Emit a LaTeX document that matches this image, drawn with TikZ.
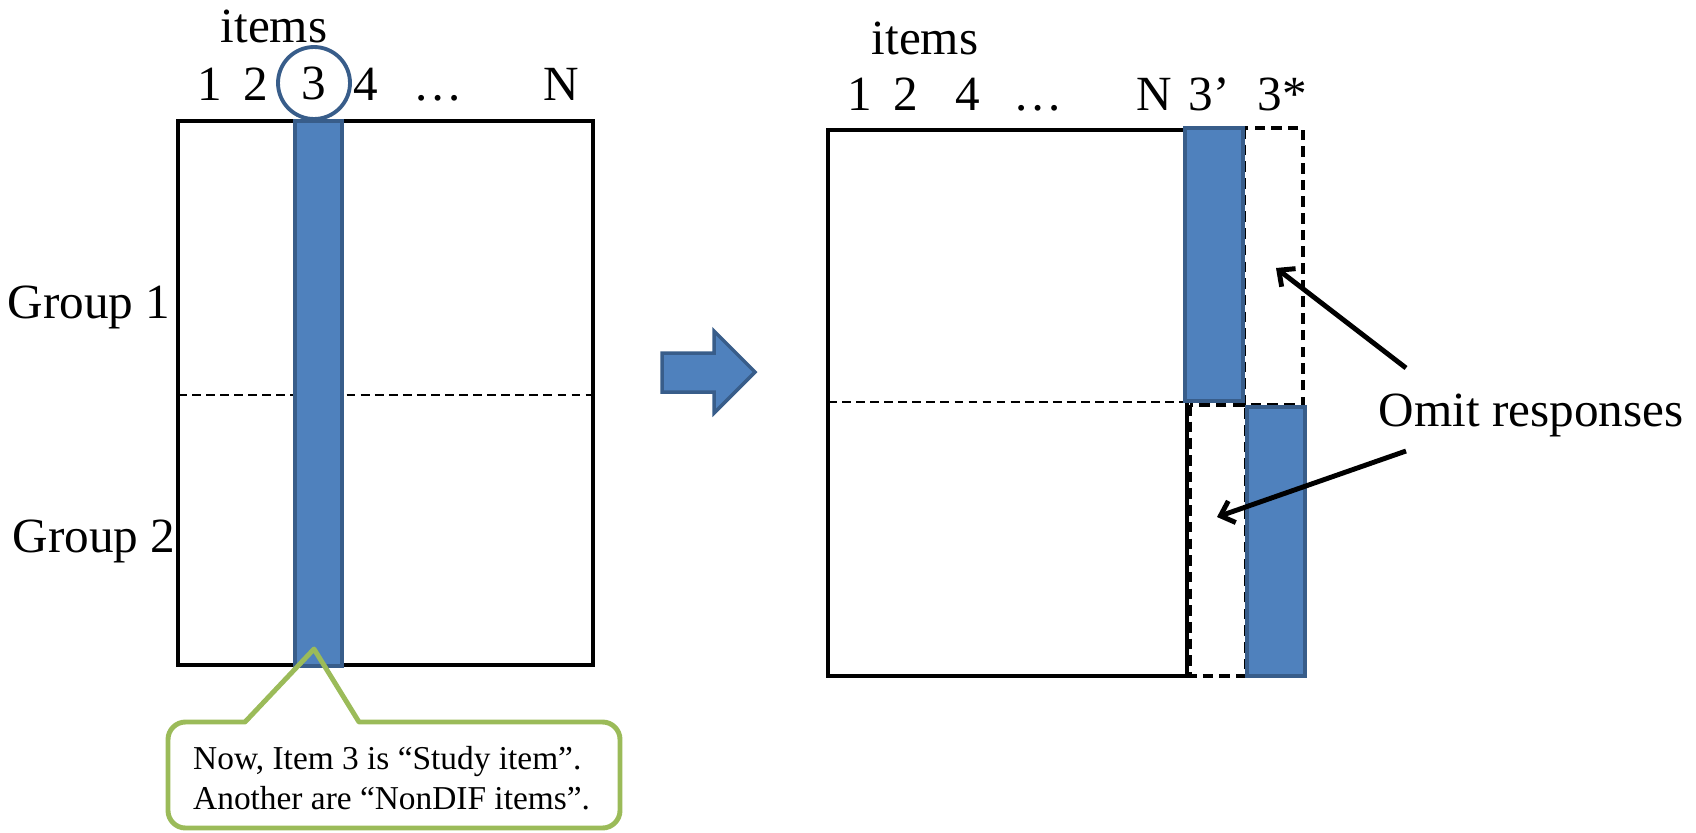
\documentclass[tikz,border=0pt]{standalone}
\usepackage{fontspec}
\setmainfont{Liberation Serif}
\usetikzlibrary{arrows.meta}
\definecolor{barblue}{HTML}{4F81BD}
\definecolor{barline}{HTML}{385D8A}
\definecolor{notegreen}{HTML}{9BBB59}

\begin{document}
\begin{tikzpicture}[x=0.02cm, y=-0.02cm, font=\fontsize{28}{34}\selectfont]
                \useasboundingbox (0,0) rectangle (1696,832);

                % Left matrix
                \draw[line width=2.2pt] (178,121) rectangle (593,665);
                \draw[dash pattern=on 5pt off 3pt, line width=0.9pt] (178,395) -- (593,395);
                \draw[draw=barline, fill=barblue, line width=1.8pt] (295,121) rectangle (342,666);

                % Nodes
                \node (items1) at (274,26) {items};
                \node[anchor=base] (1) at (210,100) {1};
                \node[anchor=base] (2) at (256,100) {2};
                \node[circle, draw=barline, line width=2.2pt, minimum size=1.44cm, inner sep=0pt] (3) at (314,83) {3};
                \node[anchor=base] (4) at (366,100) {4};
                \node[anchor=base] (dots1) at (438,100) {…};
                \node[anchor=base] (N) at (561,100) {N};
                \node (g1) at (89,307) {Group 1};
                \node (g2) at (94,541) {Group 2};

                % Callout
                \draw[notegreen, line width=2.8pt, line join=round] (168,770) [rounded corners=0.35cm] -- (168,722) [sharp corners] -- (245,722) -- (314,649) -- (359,722) [rounded corners=0.35cm] -- (620,722) -- (620,828) -- (168,828) -- cycle;
                \node[anchor=base west, font=\fontsize{19}{23}\selectfont] (note1) at (187,769) {Now, Item 3 is “Study item”.};
                \node[anchor=base west, font=\fontsize{19}{23}\selectfont] (note2) at (187,809) {Another are “NonDIF items”.};

                % Big arrow
                \draw[draw=barline, fill=barblue, line width=2pt] (662,353) -- (714,353) -- (714,331) -- (755,372) -- (714,413) -- (714,392) -- (662,392) -- cycle;

                % Right matrix
                \draw[line width=2.2pt] (828,130) rectangle (1187,676);
                \draw[dash pattern=on 5pt off 3pt, line width=0.9pt] (828,402) -- (1187,402);
                \draw[dash pattern=on 6pt off 3.5pt, line width=2.1pt] (1244,128) rectangle (1303,405);
                \draw[dash pattern=on 6pt off 3.5pt, line width=2.1pt] (1190,405) rectangle (1246,676);
                \draw[draw=barline, fill=barblue, line width=1.8pt] (1185,128) rectangle (1243,401);
                \draw[draw=barline, fill=barblue, line width=1.8pt] (1247,407) rectangle (1305,676);

                \node (items2) at (925,38) {items};
                \node[anchor=base] (r1) at (860,110) {1};
                \node[anchor=base] (r2) at (906,110) {2};
                \node[anchor=base] (r4) at (968,110) {4};
                \node[anchor=base] (dots2) at (1038,110) {…};
                \node[anchor=base] (rN) at (1154,110) {N};
                \node[anchor=base] (r3a) at (1209,110) {3’};
                \node[anchor=base] (r3b) at (1282,110) {3*};

                \node (omit) at (1531,415) {Omit responses};
                \coordinate (s1) at (1406,368);
                \coordinate (s2) at (1406,451);
                \coordinate (e1) at (1276,268);
                \coordinate (e2) at (1217,517);

                % Edges
                \draw[-{Straight Barb[length=7pt, width=13pt]}, line width=2.8pt] (s1) -- (e1);
                \draw[-{Straight Barb[length=7pt, width=13pt]}, line width=2.8pt] (s2) -- (e2);
            \end{tikzpicture}
\end{document}
